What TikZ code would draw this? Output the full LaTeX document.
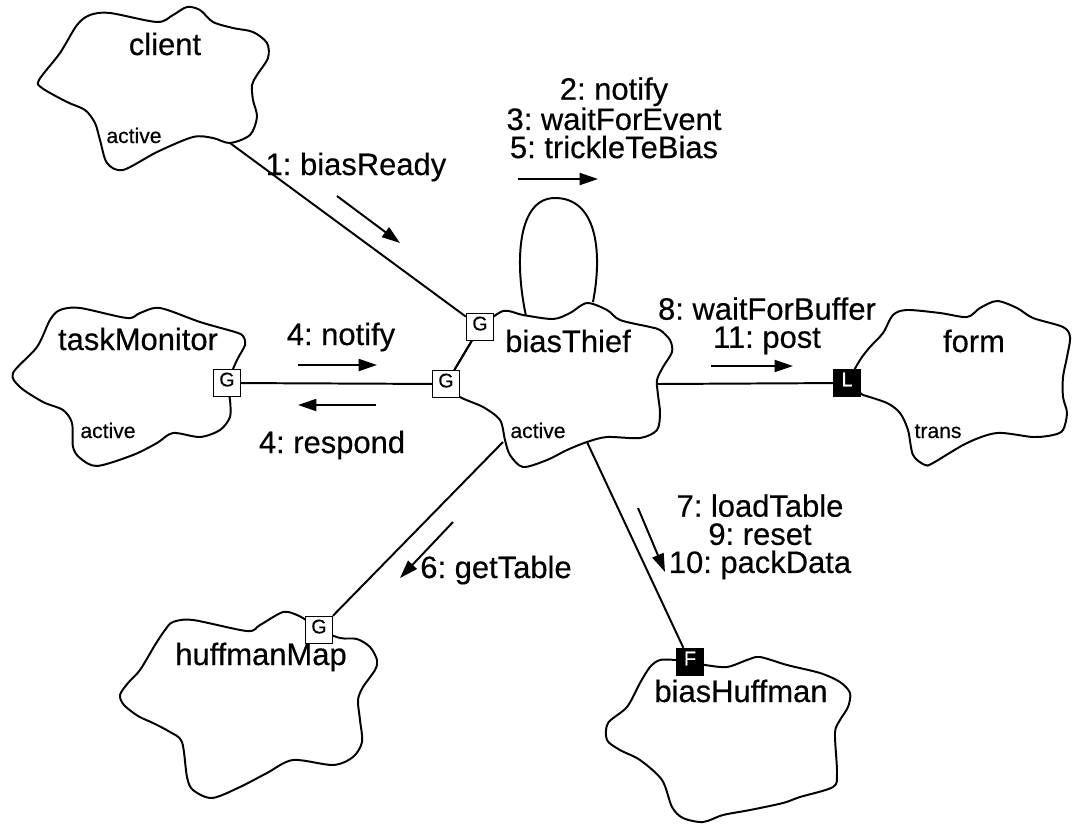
\documentclass[tikz,border=0pt]{standalone}
\usepackage{fontspec}
\setmainfont{Liberation Sans}[UprightFeatures={FakeBold=0.4}]
\usetikzlibrary{arrows.meta}
\pgfdeclarelayer{background}
\pgfsetlayers{background,main}
\frenchspacing
\begin{document}
\begin{tikzpicture}[x=0.025cm,y=-0.025cm,
  outline/.style={line width=1.4pt, line join=round},
  link/.style={line width=1.4pt},
  msg/.style={line width=1.4pt, -{Triangle[length=13pt,width=8.5pt]}},
  objname/.style={font=\fontsize{22}{22}\selectfont, anchor=base, inner sep=0pt},
  lbl/.style={font=\fontsize{22}{20}\selectfont, align=center, inner sep=0pt},
  state/.style={font=\fontsize{15}{15}\selectfont, anchor=base, inner sep=0pt},
  gbox/.style={draw, fill=white, line width=1.2pt, minimum size=19pt, inner sep=0pt,
    text depth=5pt, font=\fontsize{14}{14}\selectfont},
  bbox/.style={gbox, fill=black, text=white}]
\useasboundingbox (0,0) rectangle (1073,824);

% visibility / access adornments
\node[gbox] (gt) at (227,383) {G};
\node[gbox] (g1) at (480,327) {G};
\node[gbox] (g2) at (446,384) {G};
\node[gbox] (gh) at (319,630) {G};
\node[bbox] (lb) at (847,383) {L};
\node[bbox] (fb) at (690,662) {F};

% attachment points on the object outlines
\coordinate (clientEnd) at (230,143);
\coordinate (loopL) at (526,316);
\coordinate (loopR) at (593,302);
\coordinate (thiefR) at (657,384);
\coordinate (thiefSW) at (503,442);
\coordinate (thiefS) at (587,442);

% object clouds
\begin{pgfonlayer}{background}
\draw[outline] plot[smooth cycle] coordinates {(39,80) (60,53) (77,25) (90,15) (110,13)
  (157,22) (173,15) (187,7) (200,10) (213,22) (233,28) (253,32) (267,43) (268,58)
  (257,75) (252,85) (253,100) (257,117) (250,135) (230,143) (213,138) (193,137)
  (157,152) (123,170) (107,163) (100,140) (95,123) (85,110) (67,102) (42,88)};
\draw[outline] plot[smooth] coordinates {(227,383) (237,360) (245,345) (243,336)
  (235,332) (200,322) (160,308) (140,313) (127,318) (80,308) (60,310) (50,320)
  (37,347) (13,373) (20,387) (43,402) (63,410) (72,423) (73,447) (80,458) (97,466)
  (133,455) (157,443) (173,433) (200,437) (220,430) (230,417) (230,400)} -- cycle;
\draw[outline] plot[smooth] coordinates {(480,327) (503,311) (523,315) (553,319)
  (570,313) (587,303) (607,310) (620,320) (650,327) (660,330) (670,340) (672,352)
  (663,367) (657,380) (658,395) (660,413) (657,430) (640,438) (607,437) (587,442)
  (567,450) (547,460) (523,467) (510,455) (505,440) (500,420) (483,407) (460,397)
  (446,384)} -- cycle;
\draw[outline] plot[smooth] coordinates {(847,383) (860,360) (870,347) (883,333)
  (893,315) (907,310) (940,313) (967,317) (980,308) (997,301) (1017,308) (1033,318)
  (1063,327) (1070,337) (1067,357) (1063,377) (1063,397) (1067,413) (1063,430)
  (1053,435) (1033,437) (997,433) (967,443) (933,463) (925,465) (913,455) (908,430)
  (900,413) (887,403) (863,395)} -- cycle;
\draw[outline] plot[smooth] coordinates {(319,630) (340,638) (357,639) (370,647)
  (377,660) (375,670) (363,687) (358,700) (360,720) (362,742) (353,757) (333,765)
  (293,760) (267,773) (240,787) (212,798) (193,790) (187,777) (182,742) (170,732)
  (153,723) (138,716) (124,705) (120,695) (128,683) (140,670) (155,645) (165,630)
  (173,622) (193,620) (247,631) (260,625) (283,612) (297,615) (306,620)} -- cycle;
\draw[outline] plot[smooth] coordinates {(690,662) (705,665) (727,667) (747,660)
  (760,657) (787,665) (820,673) (840,682) (850,693) (848,707) (840,720) (835,733)
  (837,773) (833,787) (800,797) (783,803) (750,810) (723,815) (703,822) (683,818)
  (672,807) (662,780) (640,760) (620,750) (607,740) (608,723) (627,707) (640,683)
  (650,667) (660,660) (676,660)} -- cycle;
\end{pgfonlayer}

% object names and states
\node[objname] (nclient) at (165,55) {client};
\node[state] (sclient) at (134,143) {active};
\node[objname] (ntask) at (138,350) {taskMonitor};
\node[state] (stask) at (108,438) {active};
\node[objname] (nthief) at (568,352) {biasThief};
\node[state] (sthief) at (538,438) {active};
\node[objname] (nform) at (974,352) {form};
\node[state] (sform) at (938,438) {trans};
\node[objname] (nmap) at (261,665) {huffmanMap};
\node[objname] (nhuff) at (741,702) {biasHuffman};

% links
\draw[link] (clientEnd) -- (g1);
\draw[link] (gt) -- (g2);
\draw[link] (g1) -- (g2);
\draw[link] (thiefR) -- (lb);
\draw[link] (thiefSW) -- (gh);
\draw[link] (thiefS) -- (fb);
\draw[link] (loopL) .. controls (514,260) and (518,198) .. (555,198)
  .. controls (596,198) and (603,250) .. (loopR);

% message directions
\coordinate (m1a) at (337,196); \coordinate (m1b) at (400,243);
\coordinate (m2a) at (518,179); \coordinate (m2b) at (598,179);
\coordinate (m4a) at (298,365); \coordinate (m4b) at (377,365);
\coordinate (m4c) at (376,405); \coordinate (m4d) at (298,405);
\coordinate (m8a) at (711,366); \coordinate (m8b) at (793,366);
\coordinate (m6a) at (453,522); \coordinate (m6b) at (400,578);
\coordinate (m7a) at (638,508); \coordinate (m7b) at (665,572);
\draw[msg] (m1a) -- (m1b);
\draw[msg] (m2a) -- (m2b);
\draw[msg] (m4a) -- (m4b);
\draw[msg] (m4c) -- (m4d);
\draw[msg] (m8a) -- (m8b);
\draw[msg] (m6a) -- (m6b);
\draw[msg] (m7a) -- (m7b);

% message labels
\node[lbl, anchor=base] (t1) at (356,175) {1: biasReady};
\node[lbl, anchor=north] (t235) at (614,77) {2: notify\\3: waitForEvent\\5: trickleTeBias};
\node[lbl, anchor=base] (t4n) at (341,345) {4: notify};
\node[lbl, anchor=base] (t4r) at (332,453) {4: respond};
\node[lbl, anchor=north] (t811) at (767,297) {8: waitForBuffer\\11: post};
\node[lbl, anchor=base] (t6) at (496,578) {6: getTable};
\node[lbl, anchor=north] (t7910) at (760,494) {7: loadTable\\9: reset\\10: packData};
\end{tikzpicture}
\end{document}
